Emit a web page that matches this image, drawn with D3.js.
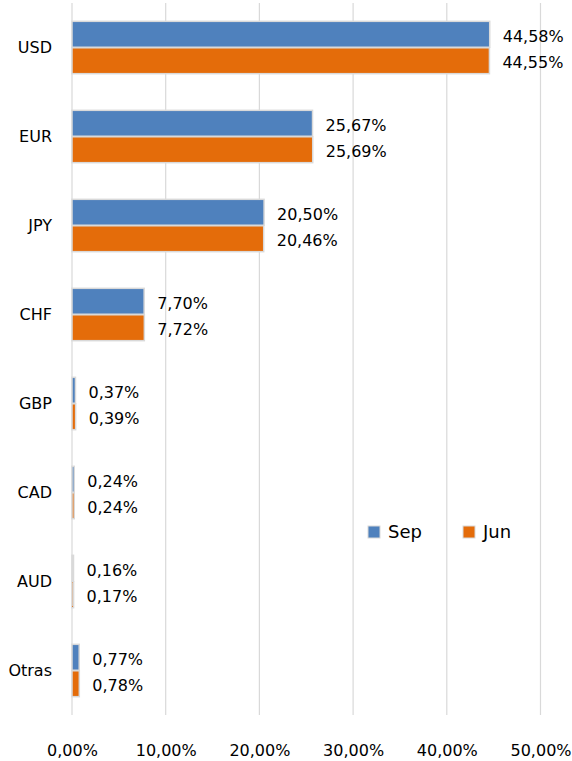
<!DOCTYPE html>
<html>
<head>
<meta charset="utf-8">
<script src="https://cdn.jsdelivr.net/npm/d3@7"></script>
<style>
  body { margin: 0; background: #fff; }
  text { font-family: "DejaVu Sans", sans-serif; fill: #000; }
</style>
</head>
<body>
<div id="chart-area"></div>
<script>
// Data
let currencies = ["USD", "EUR", "JPY", "CHF", "GBP", "CAD", "AUD", "Otras"];
let seriesNames = ["Sep", "Jun"];
let sepValues = [44.58, 25.67, 20.50, 7.70, 0.37, 0.24, 0.16, 0.77];
let junValues = [44.55, 25.69, 20.46, 7.72, 0.39, 0.24, 0.17, 0.78];
let xTicks = [0, 10, 20, 30, 40, 50];
let colors = ["#4f81bd", "#e46c0a"];

let svgWidth = 572, svgHeight = 761;
let plot = {left: 72, right: 540.5, top: 3, bottom: 715};

let svg = d3.select("#chart-area")
    .append("svg")
    .attr("width", svgWidth)
    .attr("height", svgHeight);

let x = d3.scaleLinear()
    .domain([0, 50])
    .range([plot.left, plot.right]);

let y0 = d3.scaleBand()
    .domain(currencies)
    .range([plot.top, plot.bottom])
    .paddingInner(0.4)
    .paddingOuter(0.2);

let y1 = d3.scaleBand()
    .domain(seriesNames)
    .range([0, y0.bandwidth()])
    .padding(0.02);

let color = d3.scaleOrdinal().domain(seriesNames).range(colors);

let fmt = function (v) {
    return v.toFixed(2).replace(".", ",") + "%";
};

// Gridlines
svg.append("g")
    .selectAll("line")
    .data(xTicks)
    .enter()
    .append("line")
    .attr("x1", function (d) { return x(d); })
    .attr("x2", function (d) { return x(d); })
    .attr("y1", plot.top)
    .attr("y2", plot.bottom)
    .attr("stroke", "#d9d9d9")
    .attr("stroke-width", 1.2);

// X axis labels
let xAxisCall = d3.axisBottom(x)
    .tickValues(xTicks)
    .tickSize(0)
    .tickPadding(0)
    .tickFormat(fmt);
let xAxis = svg.append("g")
    .attr("transform", "translate(0," + 756 + ")")
    .call(xAxisCall);
xAxis.select(".domain").remove();
xAxis.selectAll("text")
    .attr("dy", 0)
    .attr("font-size", "16px")
    .attr("font-family", "DejaVu Sans");

// Y axis labels
let yAxisCall = d3.axisLeft(y0).tickSize(0).tickPadding(20);
let yAxis = svg.append("g")
    .attr("transform", "translate(" + plot.left + ",0)")
    .call(yAxisCall);
yAxis.select(".domain").remove();
yAxis.selectAll("text")
    .attr("font-size", "16px")
    .attr("font-family", "DejaVu Sans");

// Bars
let rows = currencies.map(function (c, i) {
    return {cat: c, values: [
        {name: "Sep", value: sepValues[i]},
        {name: "Jun", value: junValues[i]}
    ]};
});

let groups = svg.selectAll(".group")
    .data(rows)
    .enter()
    .append("g")
    .attr("class", "group")
    .attr("transform", function (d) { return "translate(0," + y0(d.cat) + ")"; });

groups.selectAll("rect")
    .data(function (d) { return d.values; })
    .enter()
    .append("rect")
    .attr("x", x(0))
    .attr("y", function (d) { return y1(d.name); })
    .attr("width", function (d) { return x(d.value) - x(0); })
    .attr("height", y1.bandwidth())
    .attr("fill", function (d) { return color(d.name); })
    .attr("stroke", "#d9d9d9")
    .attr("stroke-width", 1.5);

groups.selectAll(".label")
    .data(function (d) { return d.values; })
    .enter()
    .append("text")
    .attr("class", "label")
    .attr("x", function (d) { return x(d.value) + 13; })
    .attr("y", function (d) { return y1(d.name) + y1.bandwidth() / 2 + 2; })
    .attr("dy", "0.35em")
    .attr("font-size", "16px")
    .text(function (d) { return fmt(d.value); });

// Legend
let legend = svg.append("g")
    .attr("transform", "translate(368,526)");
let legendX = [0, 95];
seriesNames.forEach(function (s, i) {
    legend.append("rect")
        .attr("x", legendX[i])
        .attr("y", 0)
        .attr("width", 12)
        .attr("height", 12)
        .attr("fill", color(s))
        .attr("stroke", "#d9d9d9")
        .attr("stroke-width", 1);
    legend.append("text")
        .attr("x", legendX[i] + 20)
        .attr("y", 6)
        .attr("dy", "0.35em")
        .attr("font-size", "18px")
        .text(s);
});
</script>
</body>
</html>
